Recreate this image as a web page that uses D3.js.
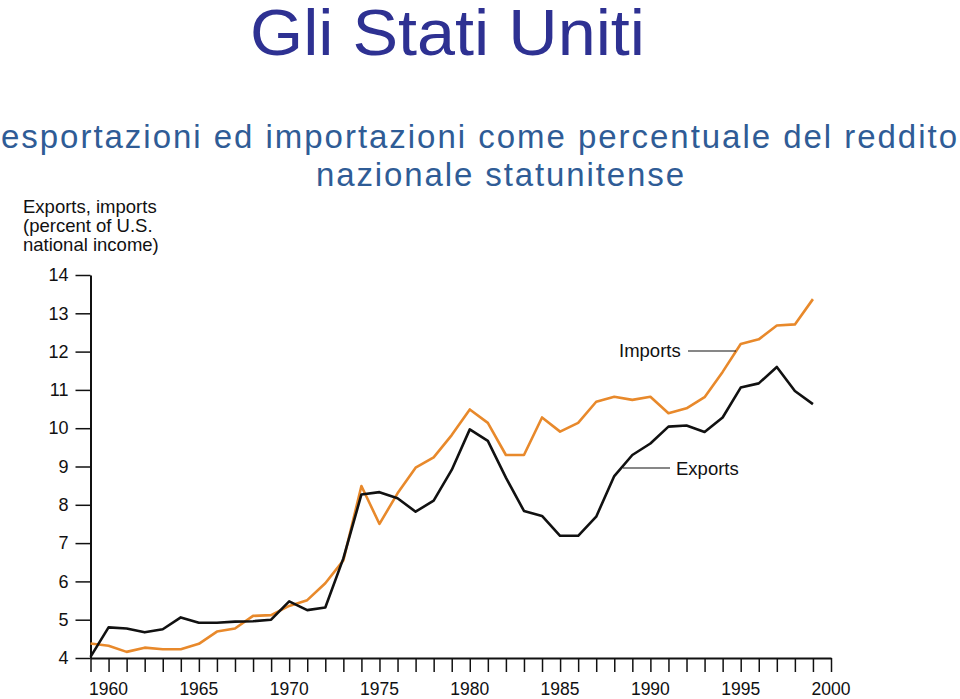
<!DOCTYPE html>
<html lang="it">
<head>
<meta charset="UTF-8">
<title>Gli Stati Uniti</title>
<script src="https://cdn.jsdelivr.net/npm/d3@7/dist/d3.min.js"></script>
<style>
  body { margin: 0; background: #fff; }
  text { font-family: "Liberation Sans", Arial, sans-serif; }
</style>
</head>
<body>
<svg id="chart" width="960" height="699"></svg>
<script>
// years 1959..1999
var years = d3.range(1959, 2000);
var exportsPct = [4.03, 4.80, 4.77, 4.67, 4.75, 5.06, 4.92, 4.92, 4.95, 4.96,
                  5.00, 5.48, 5.25, 5.32, 6.60, 8.27, 8.33, 8.17, 7.82, 8.11,
                  8.91, 9.97, 9.67, 8.71, 7.84, 7.71, 7.19, 7.19, 7.69, 8.75,
                  9.30, 9.60, 10.04, 10.07, 9.90, 10.28, 11.06, 11.17, 11.60, 10.97,
                  10.63];
var importsPct = [4.38, 4.32, 4.16, 4.27, 4.23, 4.23, 4.37, 4.69, 4.77, 5.10,
                  5.12, 5.36, 5.51, 5.95, 6.55, 8.49, 7.50, 8.30, 8.97, 9.24,
                  9.82, 10.49, 10.14, 9.30, 9.30, 10.28, 9.91, 10.14, 10.69, 10.82,
                  10.74, 10.82, 10.39, 10.52, 10.81, 11.47, 12.20, 12.32, 12.68, 12.71,
                  13.37];
var yTicks = [4, 5, 6, 7, 8, 9, 10, 11, 12, 13, 14];
var xLabels = [1960, 1965, 1970, 1975, 1980, 1985, 1990, 1995, 2000];

var svg = d3.select("#chart");

// titles
svg.append("text")
  .attr("x", 250).attr("y", 55)
  .attr("textLength", 395).attr("lengthAdjust", "spacingAndGlyphs")
  .style("font-size", "64px").style("fill", "#2e3192")
  .text("Gli Stati Uniti");

svg.append("text")
  .attr("x", 1).attr("y", 148)
  .attr("textLength", 956).attr("lengthAdjust", "spacing")
  .style("font-size", "33px").style("fill", "#2f5c96")
  .text("esportazioni ed importazioni come percentuale del reddito");

svg.append("text")
  .attr("x", 316).attr("y", 186)
  .attr("textLength", 368).attr("lengthAdjust", "spacing")
  .style("font-size", "33px").style("fill", "#2f5c96")
  .text("nazionale statunitense");

// axis title
var yt = svg.append("text").style("font-size", "18.5px").style("fill", "#111");
["Exports, imports", "(percent of U.S.", "national income)"].forEach(function(s, i) {
  yt.append("tspan").attr("x", 23).attr("y", 213 + i * 19).text(s);
});

var x = d3.scaleLinear().domain([1959, 2000]).range([90.5, 831]);
var y = d3.scaleLinear().domain([4, 14]).range([658, 275]);

// x axis
var xAxis = svg.append("g")
  .attr("transform", "translate(0,658)")
  .call(d3.axisBottom(x).tickValues(d3.range(1959, 2001)).tickSize(14).tickSizeOuter(0).tickFormat(""));
xAxis.selectAll("line").attr("stroke", "#111").attr("stroke-width", 1.5);
xAxis.select(".domain").attr("stroke", "#111").attr("stroke-width", 2);

svg.selectAll(".xlab")
  .data(xLabels)
  .enter().append("text")
  .attr("class", "xlab")
  .attr("x", function(d) { return x(d); })
  .attr("y", 695)
  .attr("text-anchor", "middle")
  .style("font-size", "17.5px").style("fill", "#111")
  .text(function(d) { return d; });

// y axis
var yAxis = svg.append("g")
  .attr("transform", "translate(90.5,0)")
  .call(d3.axisLeft(y).tickValues(yTicks).tickSize(15).tickSizeOuter(0).tickPadding(7));
yAxis.selectAll("line").attr("stroke", "#111").attr("stroke-width", 1.5);
yAxis.select(".domain").attr("stroke", "#111").attr("stroke-width", 2);
yAxis.selectAll("text")
  .style("font-size", "18px").style("fill", "#111")
  .style("font-family", "'Liberation Sans', Arial, sans-serif");

// lines
var line = d3.line()
  .x(function(d) { return x(d[0]); })
  .y(function(d) { return y(d[1]); });

svg.append("path")
  .datum(years.map(function(yr, i) { return [yr, importsPct[i]]; }))
  .attr("d", line)
  .attr("fill", "none")
  .attr("stroke", "#e8892b")
  .attr("stroke-width", 2.6)
  .attr("stroke-linejoin", "round");

svg.append("path")
  .datum(years.map(function(yr, i) { return [yr, exportsPct[i]]; }))
  .attr("d", line)
  .attr("fill", "none")
  .attr("stroke", "#111")
  .attr("stroke-width", 2.6)
  .attr("stroke-linejoin", "round");

// series labels with leader lines
svg.append("line")
  .attr("x1", 688).attr("x2", 736).attr("y1", 351).attr("y2", 351)
  .attr("stroke", "#111").attr("stroke-width", 1.2);
svg.append("text")
  .attr("x", 619).attr("y", 357)
  .style("font-size", "18.5px").style("fill", "#111")
  .text("Imports");

svg.append("line")
  .attr("x1", 623).attr("x2", 670).attr("y1", 468).attr("y2", 468)
  .attr("stroke", "#111").attr("stroke-width", 1.2);
svg.append("text")
  .attr("x", 676).attr("y", 475)
  .style("font-size", "18.5px").style("fill", "#111")
  .text("Exports");
</script>
</body>
</html>
